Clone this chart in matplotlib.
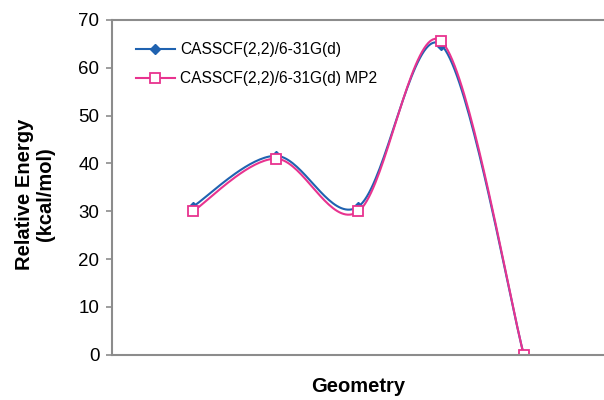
import numpy as np
import matplotlib
matplotlib.use('Agg')
import matplotlib.pyplot as plt

matplotlib.rcParams['font.family'] = ['Liberation Sans', 'DejaVu Sans']

geometry = [1, 2, 3, 4, 5]
casscf = [31.0, 41.6, 31.0, 64.8, 0.0]
casscf_mp2 = [30.0, 41.0, 30.0, 65.6, 0.0]
labels = ['CASSCF(2,2)/6-31G(d)', 'CASSCF(2,2)/6-31G(d) MP2']

blue = '#1f62b0'
pink = '#e8338f'
grey = '#8c8c8c'


def smooth(x, y, n=40):
    # excel style smoothing: cubic bezier through points, catmull-rom controls
    x = np.asarray(x, float)
    y = np.asarray(y, float)
    px = np.concatenate([[x[0]], x, [x[-1]]])
    py = np.concatenate([[y[0]], y, [y[-1]]])
    xs, ys = [], []
    t = np.linspace(0, 1, n)
    for i in range(1, len(px) - 2):
        p0 = np.array([px[i], py[i]])
        p3 = np.array([px[i + 1], py[i + 1]])
        c1 = p0 + (np.array([px[i + 1], py[i + 1]]) - np.array([px[i - 1], py[i - 1]])) / 6
        c2 = p3 - (np.array([px[i + 2], py[i + 2]]) - np.array([px[i], py[i]])) / 6
        b = ((1 - t) ** 3)[:, None] * p0 + (3 * (1 - t) ** 2 * t)[:, None] * c1 \
            + (3 * (1 - t) * t ** 2)[:, None] * c2 + (t ** 3)[:, None] * p3
        xs.extend(b[:, 0])
        ys.extend(b[:, 1])
    return xs, ys


fig = plt.figure(figsize=(6.04, 4.0), dpi=100)
ax = fig.add_axes([0.1854, 0.113, 0.8146, 0.837])

sx, sy = smooth(geometry, casscf)
ax.plot(sx, sy, color=blue, lw=1.5)
ax.plot(geometry, casscf, ls='none', marker='D', ms=5, color=blue)
sx, sy = smooth(geometry, casscf_mp2)
ax.plot(sx, sy, color=pink, lw=1.5)
ax.plot(geometry, casscf_mp2, ls='none', marker='s', ms=7.5, mfc='white', mec=pink, mew=1.3)

# legend proxies
h1, = ax.plot([], [], color=blue, lw=1.5, marker='D', ms=5)
h2, = ax.plot([], [], color=pink, lw=1.5, marker='s', ms=6.5, mfc='white', mec=pink, mew=1.3)
ax.legend([h1, h2], labels, loc='upper left', bbox_to_anchor=(0.02, 0.975), frameon=False,
          fontsize=11.2, handlelength=2.5, handletextpad=0.35, labelspacing=0.9)

ax.set_xlim(0.02, 5.97)
ax.set_ylim(0, 70)
ax.set_yticks(range(0, 71, 10))
ax.set_xticks([])
ax.tick_params(axis='y', labelsize=13.5, length=4, color=grey, width=1.2, pad=5)
for side in ['left', 'top', 'bottom']:
    ax.spines[side].set_color(grey)
    ax.spines[side].set_linewidth(1.5)
ax.spines['right'].set_visible(False)

fig.text(35 / 604, 1 - 194 / 400, 'Relative Energy\n(kcal/mol)', rotation=90, ha='center', va='center',
         fontsize=14.5, fontweight='bold', linespacing=1.1)
fig.text(358 / 604, 1 - 387 / 400, 'Geometry', ha='center', va='center', fontsize=14.5, fontweight='bold')

plt.savefig('out.png', dpi=100)
